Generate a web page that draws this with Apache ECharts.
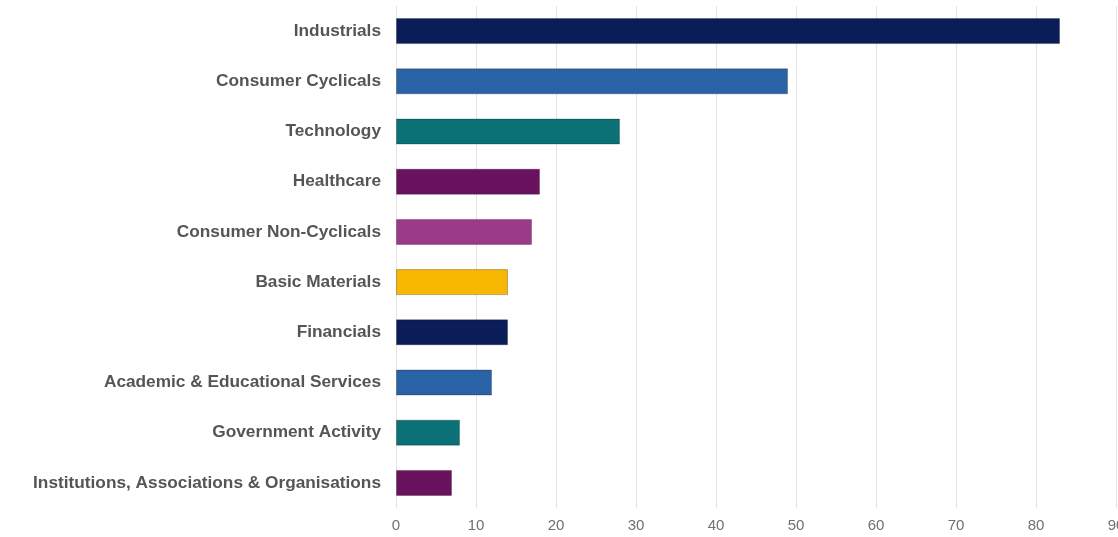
<!DOCTYPE html>
<html>
<head>
<meta charset="utf-8">
<script src="https://cdn.jsdelivr.net/npm/echarts@6/dist/echarts.min.js"></script>
<style>
  html, body { margin: 0; padding: 0; background: #ffffff; }
  #chart { width: 1118px; height: 537px; }
</style>
</head>
<body>
<div id="chart"></div>
<script>
// Sectors, listed top to bottom
const categories = [
  'Industrials',
  'Consumer Cyclicals',
  'Technology',
  'Healthcare',
  'Consumer Non-Cyclicals',
  'Basic Materials',
  'Financials',
  'Academic & Educational Services',
  'Government Activity',
  'Institutions, Associations & Organisations'
];
const values = [83, 49, 28, 18, 17, 14, 14, 12, 8, 7];
const barColors = [
  '#0b1d58', '#2a62a7', '#0c7077', '#6a1160', '#9b3a88',
  '#f6b800', '#0b1d58', '#2a62a7', '#0c7077', '#6a1160'
];
const xTicks = { min: 0, max: 90, interval: 10 };

const chart = echarts.init(document.getElementById('chart'), null, { renderer: 'canvas' });
chart.setOption({
  animation: false,
  backgroundColor: '#ffffff',
  grid: {
    left: 396, right: 2, top: 6, bottom: 29,
    containLabel: false,
    outerBoundsMode: 'none'
  },
  xAxis: {
    type: 'value',
    min: xTicks.min,
    max: xTicks.max,
    interval: xTicks.interval,
    axisLine: { show: false },
    axisTick: { show: false },
    splitLine: { show: true, lineStyle: { color: '#e3e3e3', width: 1 } },
    axisLabel: {
      color: '#707070',
      fontFamily: 'Liberation Sans, Arial, sans-serif',
      fontSize: 15,
      margin: 10
    }
  },
  yAxis: {
    type: 'category',
    inverse: true,
    data: categories,
    axisLine: { show: true, lineStyle: { color: '#e3e3e3' } },
    axisTick: { show: false },
    axisLabel: {
      color: '#555555',
      fontFamily: 'Liberation Sans, Arial, sans-serif',
      fontWeight: 'bold',
      fontSize: 17.25,
      margin: 15
    }
  },
  series: [{
    type: 'bar',
    data: values.map((v, i) => ({
      value: v,
      itemStyle: { color: barColors[i], borderColor: 'rgba(0,0,0,0.25)', borderWidth: 1 }
    })),
    barWidth: 26
  }]
});
</script>
</body>
</html>
